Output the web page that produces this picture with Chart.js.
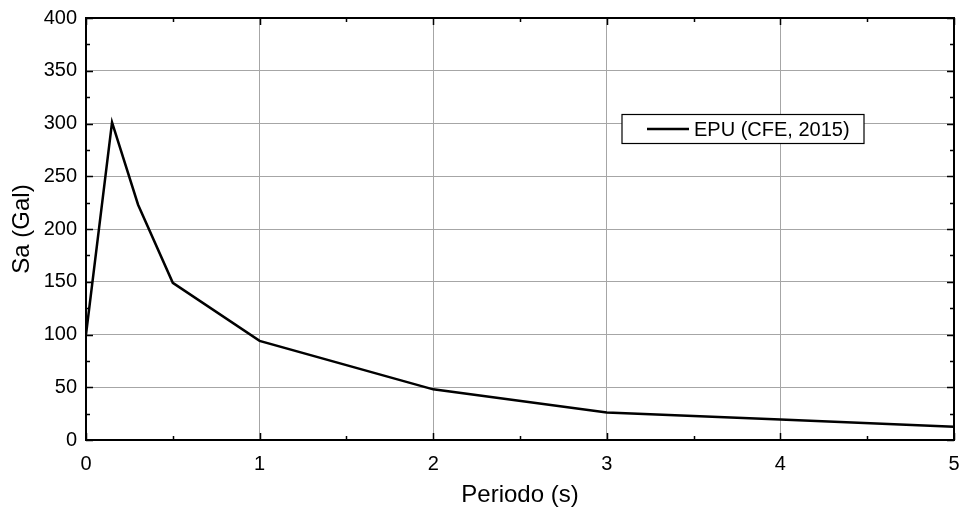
<!DOCTYPE html>
<html>
<head>
<meta charset="utf-8">
<script src="https://cdn.jsdelivr.net/npm/chart.js@4/dist/chart.umd.min.js"></script>
<style>
html,body{margin:0;padding:0;background:#fff;}
#wrap{width:962px;height:514px;position:relative;}
</style>
</head>
<body>
<div id="wrap"><canvas id="c" width="962" height="514"></canvas></div>
<script>
const periods = [0, 0.15, 0.3, 0.5, 1, 2, 3, 4, 5];
const saValues = [100, 301, 223, 149, 94, 48, 26, 19.5, 12.5];
const seriesLabel = 'EPU (CFE, 2015)';
const xTitle = 'Periodo (s)';
const yTitle = 'Sa (Gal)';
const xTicks = [0, 1, 2, 3, 4, 5];
const yTicks = [0, 50, 100, 150, 200, 250, 300, 350, 400];

const FONT = "'Liberation Sans', Arial, sans-serif";

const framePlugin = {
  id: 'frame',
  afterDraw(chart) {
    const ctx = chart.ctx, a = chart.chartArea;
    const xs = chart.scales.x, ys = chart.scales.y;
    ctx.save();
    ctx.strokeStyle = '#000';
    ctx.lineWidth = 1.5;
    const majL = 7, minL = 4;
    for (let v = 0; v <= 5.0001; v += 0.5) {
      const px = Math.round(xs.getPixelForValue(v)) + 0.5;
      const L = Math.abs(v - Math.round(v)) < 1e-6 ? majL : minL;
      ctx.beginPath();
      ctx.moveTo(px, a.bottom); ctx.lineTo(px, a.bottom - L);
      ctx.moveTo(px, a.top); ctx.lineTo(px, a.top + L);
      ctx.stroke();
    }
    for (let v = 0; v <= 400.001; v += 25) {
      const py = Math.round(ys.getPixelForValue(v)) + 0.5;
      const L = (v % 50 === 0) ? majL : minL;
      ctx.beginPath();
      ctx.moveTo(a.left, py); ctx.lineTo(a.left + L, py);
      ctx.moveTo(a.right, py); ctx.lineTo(a.right - L, py);
      ctx.stroke();
    }
    ctx.lineWidth = 2;
    ctx.strokeRect(a.left, a.top, a.right - a.left, a.bottom - a.top);
    // legend
    const lx = 622, ly = 114.5, lw = 242, lh = 29;
    ctx.fillStyle = '#fff';
    ctx.fillRect(lx, ly, lw, lh);
    ctx.lineWidth = 1.2;
    ctx.strokeRect(lx, ly, lw, lh);
    ctx.lineWidth = 2.5;
    ctx.beginPath();
    ctx.moveTo(647, ly + lh / 2); ctx.lineTo(689, ly + lh / 2);
    ctx.stroke();
    ctx.fillStyle = '#000';
    ctx.font = '20px ' + FONT;
    ctx.textBaseline = 'middle';
    ctx.textAlign = 'left';
    ctx.fillText(chart.data.datasets[0].label, 694, ly + lh / 2 + 1);
    ctx.restore();
  }
};

new Chart(document.getElementById('c'), {
  type: 'line',
  data: {
    datasets: [{
      label: seriesLabel,
      data: periods.map((p, i) => ({x: p, y: saValues[i]})),
      borderColor: '#000',
      borderWidth: 2.5,
      pointRadius: 0,
      tension: 0,
      fill: false
    }]
  },
  options: {
    responsive: false,
    animation: false,
    devicePixelRatio: 1,
    layout: {padding: {left: 4, right: 0, top: 18, bottom: 0}},
    plugins: {legend: {display: false}, tooltip: {enabled: false}},
    scales: {
      x: {
        type: 'linear', min: 0, max: 5,
        afterBuildTicks(s) { s.ticks = xTicks.map(v => ({value: v})); },
        afterFit(s) { s.height = 74; s.paddingRight = 8; s.paddingLeft = 0; },
        grid: {color: '#a6a6a6', lineWidth: 1, drawTicks: false},
        border: {display: false},
        ticks: {color: '#000', font: {family: FONT, size: 20}, padding: 12, maxRotation: 0},
        title: {display: true, text: xTitle, color: '#000', font: {family: FONT, size: 24}, padding: {top: 12}}
      },
      y: {
        type: 'linear', min: 0, max: 400,
        afterBuildTicks(s) { s.ticks = yTicks.map(v => ({value: v})); },
        afterFit(s) { s.width = 82; s.paddingTop = 0; s.paddingBottom = 0; },
        grid: {color: '#a6a6a6', lineWidth: 1, drawTicks: false},
        border: {display: false},
        ticks: {color: '#000', font: {family: FONT, size: 20}, padding: 9},
        title: {display: true, text: yTitle, color: '#000', font: {family: FONT, size: 24}, padding: {bottom: 2}}
      }
    }
  },
  plugins: [framePlugin]
});
</script>
</body>
</html>
